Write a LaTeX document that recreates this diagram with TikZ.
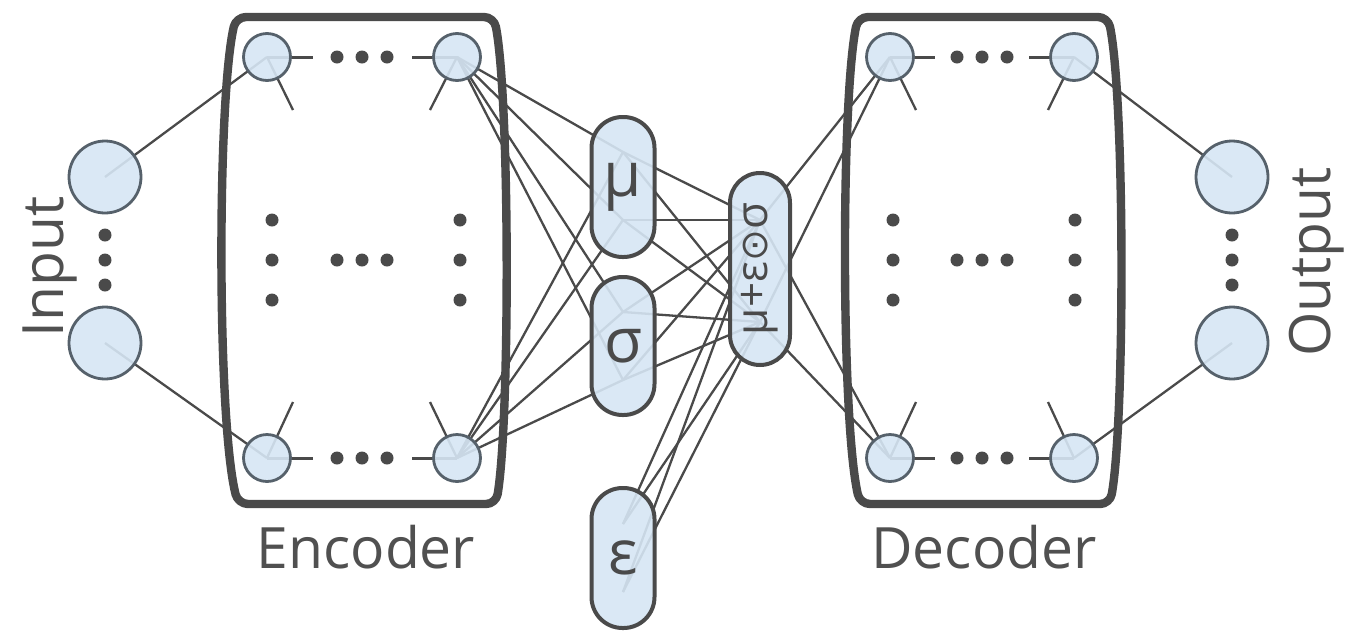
\documentclass[tikz,border=0pt]{standalone}
\usepackage{fontspec}
\setmainfont{Open Sans}
\newfontfamily\symfont{DejaVu Sans}
\usetikzlibrary{backgrounds}

\definecolor{ink}{HTML}{4A4A4A}
\definecolor{cellfill}{HTML}{D6E6F4}
\definecolor{cellline}{HTML}{56616B}
\definecolor{textgray}{HTML}{505050}

\begin{document}
\begin{tikzpicture}[x=0.5pt,y=-0.5pt,
  link/.style={draw=ink, line width=1.15pt},
  unit/.style={circle, draw=cellline, line width=1.4pt, fill=cellfill,
    fill opacity=0.9, text opacity=1, inner sep=0pt, minimum size=23.5pt},
  bigunit/.style={unit, minimum size=36pt},
  capsule/.style={rectangle, rounded corners=15.5pt, draw=ink, line width=2pt,
    fill=cellfill, fill opacity=0.9, text opacity=1, text=ink,
    minimum width=31.5pt, minimum height=70pt, inner sep=0pt,
    font=\fontsize{31}{36}\selectfont},
  layerbox/.style={draw=ink, line width=4.2pt, line join=round, rounded corners=5pt},
  blob/.style={circle, fill=ink, inner sep=0pt, minimum size=6.5pt},
  lbl/.style={text=textgray, font=\fontsize{28.5}{32}\selectfont, inner sep=0pt},
]
\useasboundingbox (0,0) rectangle (1360,633);

% ---------- input and output units ----------
\node[bigunit] (in1) at (105,177) {};
\node[bigunit] (in2) at (105,343) {};
\node[bigunit] (out1) at (1232,177) {};
\node[bigunit] (out2) at (1232,343) {};
\foreach \y [count=\i] in {235,260,285} {
  \node[blob] (indot\i) at (105,\y) {};
  \node[blob] (outdot\i) at (1232,\y) {};
}

% ---------- encoder / decoder corner units ----------
\node[unit] (eTL) at (267,57) {};
\node[unit] (eTR) at (457,57) {};
\node[unit] (eBL) at (267,458) {};
\node[unit] (eBR) at (457,458) {};
\node[unit] (dTL) at (890,57) {};
\node[unit] (dTR) at (1074,57) {};
\node[unit] (dBL) at (890,458) {};
\node[unit] (dBR) at (1074,458) {};

% ellipses inside the two networks
\foreach \x [count=\i] in {337,362,387} {
  \node[blob] (etop\i) at (\x,57) {};
  \node[blob] (emid\i) at (\x,260) {};
  \node[blob] (ebot\i) at (\x,458) {};
}
\foreach \x [count=\i] in {957,982,1007} {
  \node[blob] (dtop\i) at (\x,57) {};
  \node[blob] (dmid\i) at (\x,260) {};
  \node[blob] (dbot\i) at (\x,458) {};
}
\foreach \y [count=\i] in {220,260,300} {
  \node[blob] (eleft\i) at (272,\y) {};
  \node[blob] (eright\i) at (460,\y) {};
  \node[blob] (dleft\i) at (893,\y) {};
  \node[blob] (dright\i) at (1075,\y) {};
}

% ---------- latent variables ----------
\node[capsule] (mu) at (623,187) {μ};
\node[capsule, minimum height=69pt] (sigma) at (623,346) {σ};
\node[capsule] (eps) at (623,558) {ε};
\node[capsule, rotate=90, minimum width=96pt, minimum height=30pt,
  rounded corners=15pt, font=\fontsize{22}{24}\selectfont] (z) at (760,269)
  {μ+ε{\symfont\fontsize{19}{24}\selectfont ⊙}σ};

% attachment points of the connections inside the capsules
\coordinate (mu1) at (623,152);
\coordinate (mu2) at (623,220);
\coordinate (sg1) at (623,312);
\coordinate (sg2) at (623,380);
\coordinate (ep1) at (623,524);
\coordinate (ep2) at (623,592);
\coordinate (z1) at (760,220);
\coordinate (z2) at (760,322);

% free ends of the short stubs
\coordinate (eTLs) at (293,110);  \coordinate (eTLh) at (313,57);
\coordinate (eTRs) at (430,110);  \coordinate (eTRh) at (412,57);
\coordinate (eBLs) at (293,402);  \coordinate (eBLh) at (313,458);
\coordinate (eBRs) at (430,402);  \coordinate (eBRh) at (412,458);
\coordinate (dTLs) at (916,110);  \coordinate (dTLh) at (935,57);
\coordinate (dTRs) at (1048,110); \coordinate (dTRh) at (1029,57);
\coordinate (dBLs) at (916,402);  \coordinate (dBLh) at (935,458);
\coordinate (dBRs) at (1048,402); \coordinate (dBRh) at (1029,458);

% ---------- labels ----------
\node[lbl, anchor=base] (enclabel) at (366,568) {Encoder};
\node[lbl, anchor=base] (declabel) at (984,568) {Decoder};
\node[lbl, anchor=base, rotate=90] (inlabel) at (63,267) {Input};
\node[lbl, anchor=base, rotate=90] (outlabel) at (1330,262) {Output};

\begin{pgfonlayer}{background}
  \fill[white] (0,0) rectangle (1360,633);
  % network frames
  \draw[layerbox] (365,17) -- (494,17)
    .. controls (510,100) and (510,420) .. (496,504) -- (238,504)
    .. controls (217,420) and (217,100) .. (236,17) -- cycle;
  \draw[layerbox] (983,17) -- (1108,17)
    .. controls (1125,100) and (1125,420) .. (1110,504) -- (860,504)
    .. controls (841,420) and (841,100) .. (858,17) -- cycle;

  % stubs of the corner units
  \foreach \n in {eTL,eTR,eBL,eBR,dTL,dTR,dBL,dBR} {
    \draw[link] (\n.center) -- (\n s);
    \draw[link, line width=1.5pt] (\n.center) -- (\n h);
  }

  % input -> encoder, decoder -> output
  \draw[link] (in1.center) -- (eTL.center);
  \draw[link] (in2.center) -- (eBL.center);
  \draw[link] (dTR.center) -- (out1.center);
  \draw[link] (dBR.center) -- (out2.center);

  % encoder -> mean and deviation
  \foreach \s in {eTR,eBR}
    \foreach \t in {mu1,mu2,sg1,sg2}
      \draw[link] (\s.center) -- (\t);

  % mean, deviation and noise -> sample
  \foreach \s in {mu1,mu2,sg1,sg2,ep1,ep2}
    \foreach \t in {z1,z2}
      \draw[link] (\s) -- (\t);

  % sample -> decoder
  \foreach \s in {z1,z2}
    \foreach \t in {dTL,dBL}
      \draw[link] (\s) -- (\t.center);
\end{pgfonlayer}
\end{tikzpicture}
\end{document}
